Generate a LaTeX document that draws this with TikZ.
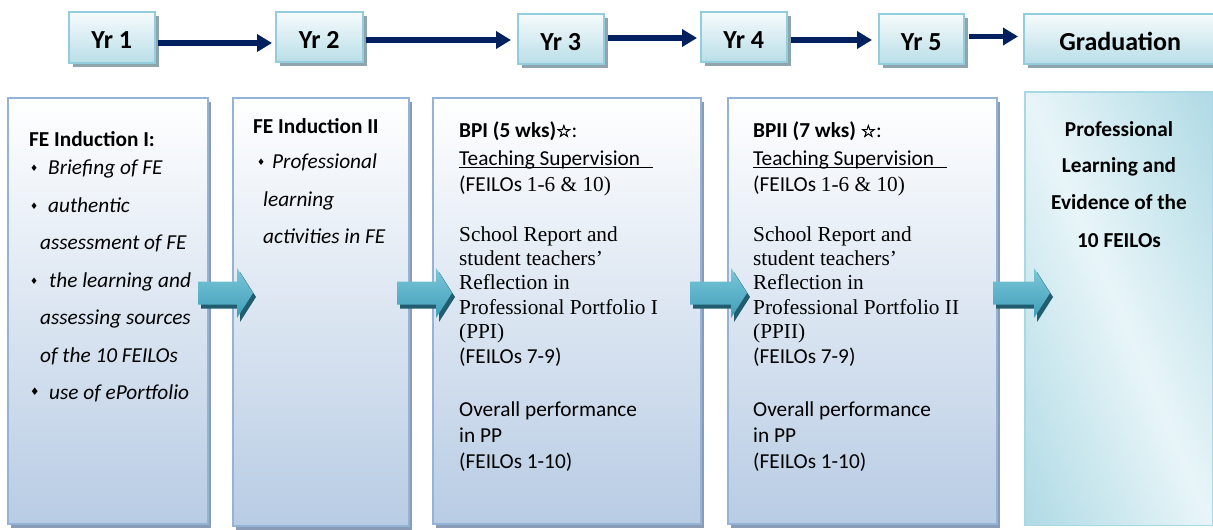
\documentclass[tikz,border=0pt]{standalone}
\usepackage{fontspec}
\setmainfont{Carlito}
\newfontfamily\tnr{Liberation Serif}
\newfontfamily\djv{DejaVu Sans}
\newfontfamily\djvb[FakeBold=2.5]{DejaVu Sans}
\usetikzlibrary{arrows.meta,shadows,calc}
\definecolor{navy}{HTML}{002060}
\definecolor{yrborder}{HTML}{93CDDD}
\definecolor{yrtop}{HTML}{F7FBFC}
\definecolor{yrbot}{HTML}{B9DEE8}
\definecolor{yrshadow}{HTML}{8FA5AD}
\definecolor{bigborder}{HTML}{95B3D7}
\definecolor{bigbot}{HTML}{B8CCE4}
\definecolor{bigshadow}{HTML}{8A9BB5}
\definecolor{tealdark}{HTML}{8CC9D9}
\definecolor{teallight}{HTML}{E8F5F8}
\definecolor{tealborder}{HTML}{A8D8E4}
\definecolor{arrtop}{HTML}{7CC6D8}
\definecolor{arrbot}{HTML}{3E9FB9}
\definecolor{arrshadow}{HTML}{215D6E}
\pgfdeclarehorizontalshading{tealband}{100bp}{color(0bp)=(tealdark); color(22bp)=(tealdark); color(50bp)=(teallight); color(78bp)=(tealdark); color(100bp)=(tealdark)}
\begin{document}
\begin{tikzpicture}[x=1pt,y=-1pt,
  yrbox/.style={draw=yrborder, line width=1.5pt, top color=yrtop, bottom color=yrbot,
    anchor=north west, inner sep=0pt, font=\fontsize{26}{30}\selectfont\bfseries,
    text height=23pt, text depth=0pt,
    drop shadow={shadow xshift=4pt,shadow yshift=-4pt,fill=yrshadow,opacity=1}},
  bigbox/.style={draw=bigborder, line width=1.5pt, top color=white, bottom color=bigbot,
    anchor=north west, inner sep=0pt,
    drop shadow={shadow xshift=3pt,shadow yshift=-4pt,fill=bigshadow,opacity=1}},
  txt/.style={anchor=base west, inner sep=0pt, font=\fontsize{21.3}{25}\selectfont},
  itxt/.style={txt, font=\fontsize{21.3}{25}\selectfont\itshape},
  stxt/.style={txt, font=\tnr\fontsize{21.3}{25}\selectfont},
  ctxt/.style={anchor=base, inner sep=0pt, font=\fontsize{21.3}{25}\selectfont\bfseries},
  bul/.style={anchor=base west, inner sep=0pt, font=\djv\fontsize{9}{9}\selectfont},
  navyarrow/.style={draw=navy, line width=5.5pt, -{Triangle[length=15pt,width=17pt]}},
  barpath/.style n args={4}{insert path={
    ($(#1)+(#3,#4-11.5)$) -- ($(#2)+(#3-16,#4-11.5)$) -- ($(#2)+(#3-16,#4-25)$) --
    ($(#2)+(#3,#4)$) -- ($(#2)+(#3-16,#4+25)$) -- ($(#2)+(#3-16,#4+11.5)$) --
    ($(#1)+(#3,#4+11.5)$) -- cycle}}
]
\useasboundingbox (0,0) rectangle (1213,530);

% ---------- top row ----------
\node[yrbox, minimum width=86pt, minimum height=51pt] (yr1) at (68,11) {Yr 1};
\node[yrbox, minimum width=87pt, minimum height=50pt] (yr2) at (275,11) {Yr 2};
\node[yrbox, minimum width=86pt, minimum height=50pt] (yr3) at (517,13) {Yr 3};
\node[yrbox, minimum width=86pt, minimum height=50pt] (yr4) at (700,11) {Yr 4};
\node[yrbox, minimum width=85pt, minimum height=50pt] (yr5) at (878,13) {Yr 5};
\node[yrbox, minimum width=193pt, minimum height=50pt, text width=160pt, align=center] (grad) at (1023,13) {Graduation};

\coordinate (l1) at (0,43);
\coordinate (l2) at (0,40);
\coordinate (l3) at (0,38);
\coordinate (l4) at (0,40);
\coordinate (l5) at (0,36.5);
\draw[navyarrow, shorten <=2pt, shorten >=3pt] (yr1.east |- l1) -- (yr2.west |- l1);
\draw[navyarrow, shorten <=2pt, shorten >=6pt] (yr2.east |- l2) -- (yr3.west |- l2);
\draw[navyarrow, shorten <=3pt, shorten >=3pt] (yr3.east |- l3) -- (yr4.west |- l3);
\draw[navyarrow, shorten <=3pt, shorten >=6pt] (yr4.east |- l4) -- (yr5.west |- l4);
\draw[navyarrow, shorten <=4pt, shorten >=5pt] (yr5.east |- l5) -- (grad.west |- l5);

% ---------- big boxes ----------
\node[bigbox, minimum width=200pt, minimum height=426pt] (b1) at (7,97) {};
\node[bigbox, minimum width=176pt, minimum height=428pt] (b2) at (232,97) {};
\node[bigbox, minimum width=268pt, minimum height=426pt] (b3) at (432,97) {};
\node[bigbox, minimum width=269pt, minimum height=426pt] (b4) at (727,97) {};
\node[anchor=north west, inner sep=0pt, minimum width=187pt, minimum height=433pt]
      (b5) at (1025,92) {};
\begin{scope}
  \clip (b5.north west) rectangle (b5.south east);
  \shade[shading=tealband, shading angle=23]
    ($(b5.center)+(-250,-250)$) rectangle ($(b5.center)+(250,250)$);
\end{scope}
\draw[tealborder, line width=1.5pt] (b5.north west) rectangle (b5.south east);

% ---------- block arrows ----------
\coordinate (a1s) at (198,293); \coordinate (a1t) at (253,293);
\coordinate (a2s) at (397,293); \coordinate (a2t) at (452,293);
\coordinate (a3s) at (690,293); \coordinate (a3t) at (747,293);
\coordinate (a4s) at (993,293); \coordinate (a4t) at (1050,293);
\foreach \k in {1,2,3,4}{
  \fill[arrshadow, barpath={a\k s}{a\k t}{3}{4}];
  \shade[top color=arrtop, bottom color=arrbot, barpath={a\k s}{a\k t}{0}{0}];
}

% ---------- box 1 text ----------
\node[txt] (b1h) at (29,146) {\bfseries FE Induction I:};
\node[bul] (b1d1) at (30,171) {♦};
\node[itxt] (b1t1) at (48,174) {Briefing of FE};
\node[bul] (b1d2) at (30,209) {♦};
\node[itxt] (b1t2) at (48,212) {authentic};
\node[itxt] (b1t3) at (40,249) {assessment of FE};
\node[bul] (b1d3) at (30,284) {♦};
\node[itxt] (b1t4) at (49,287) {the learning and};
\node[itxt] (b1t5) at (40,324) {assessing sources};
\node[itxt] (b1t6) at (40,362) {of the 10 FEILOs};
\node[bul, font=\djv\fontsize{10.5}{10.5}\selectfont] (b1d4) at (30,395) {♦};
\node[itxt] (b1t7) at (49,399) {use of ePortfolio};

% ---------- box 2 text ----------
\node[txt] (b2h) at (253,133) {\bfseries FE Induction II};
\node[bul] (b2d1) at (257,165) {♦};
\node[itxt] (b2t1) at (272,168) {Professional};
\node[itxt] (b2t2) at (263,206) {learning};
\node[itxt] (b2t3) at (263,243) {activities in FE};

% ---------- box 3 text ----------
\node[txt] (b3h) at (459,137) {\textbf{BPI (5 wks)}{\djvb\fontsize{17}{17}\selectfont ☆}:};
\node[txt] (b3l1) at (459,165) {Teaching Supervision};
\draw[line width=1.2pt] ([yshift=-2.5pt]b3l1.base west) -- ++(194,0);
\node[txt] (b3l2) at (459,191) {(FEILOs {\tnr 1-6 \& 10)}};
\node[stxt] (b3l3) at (459,241) {School Report and};
\node[stxt] (b3l4) at (459,265) {student teachers’};
\node[stxt] (b3l5) at (459,289) {Reflection in};
\node[stxt] (b3l6) at (459,314) {Professional Portfolio I};
\node[stxt] (b3l7) at (459,338) {(PPI)};
\node[txt] (b3l8) at (459,363) {(FEILOs 7-9)};
\node[txt] (b3l9) at (459,416) {Overall performance};
\node[txt] (b3l10) at (459,442) {in PP};
\node[txt] (b3l11) at (459,468) {(FEILOs 1-10)};

% ---------- box 4 text ----------
\node[txt] (b4h) at (753,137) {\textbf{BPII (7 wks)} {\djvb\fontsize{17}{17}\selectfont ☆}:};
\node[txt] (b4l1) at (753,165) {Teaching Supervision};
\draw[line width=1.2pt] ([yshift=-2.5pt]b4l1.base west) -- ++(194,0);
\node[txt] (b4l2) at (753,191) {(FEILOs {\tnr 1-6 \& 10)}};
\node[stxt] (b4l3) at (753,241) {School Report and};
\node[stxt] (b4l4) at (753,265) {student teachers’};
\node[stxt] (b4l5) at (753,289) {Reflection in};
\node[stxt] (b4l6) at (753,314) {Professional Portfolio II};
\node[stxt] (b4l7) at (753,338) {(PPII)};
\node[txt] (b4l8) at (753,363) {(FEILOs 7-9)};
\node[txt] (b4l9) at (753,416) {Overall performance};
\node[txt] (b4l10) at (753,442) {in PP};
\node[txt] (b4l11) at (753,468) {(FEILOs 1-10)};

% ---------- box 5 text ----------
\node[ctxt] (b5l1) at (1119,136) {Professional};
\node[ctxt] (b5l2) at (1119,172) {Learning and};
\node[ctxt] (b5l3) at (1119,209) {Evidence of the};
\node[ctxt] (b5l4) at (1119,247) {10 FEILOs};
\end{tikzpicture}
\end{document}
